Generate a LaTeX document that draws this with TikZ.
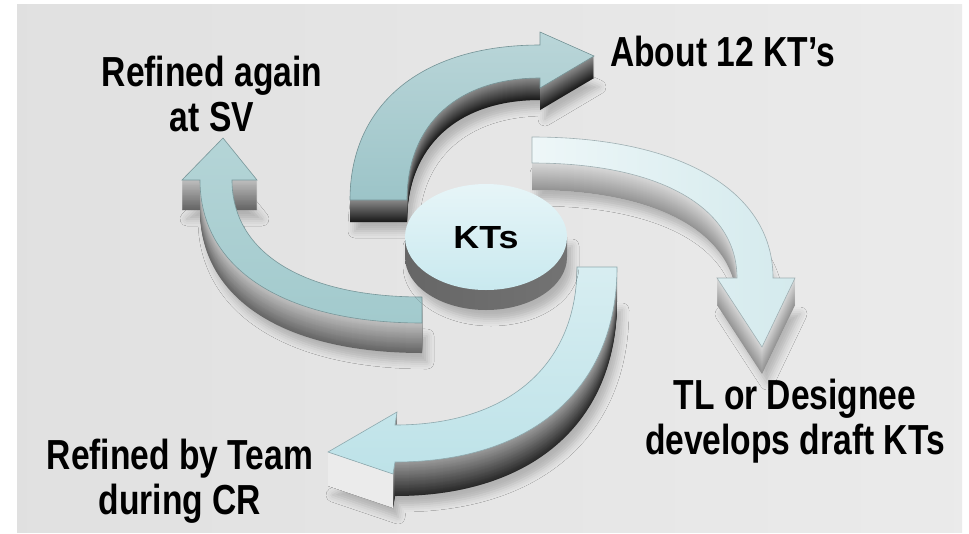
\documentclass[tikz,border=0pt]{standalone}
\usepackage{fontspec}
\setmainfont{Liberation Sans}
\usetikzlibrary{shadows.blur}
\definecolor{ktop}{HTML}{9CC4C8}
\definecolor{kleft}{HTML}{A2CACD}
\definecolor{kright}{HTML}{D4EAED}
\definecolor{kbottom}{HTML}{BDE2E8}
\definecolor{khub}{HTML}{C9E9EF}
\newcommand{\arrowtop}{(407,200) .. controls (407,124) and (458,78) .. (540,78) -- (540,88) -- (594,56) -- (540,32) -- (540,45) .. controls (422,45) and (350,104) .. (350,200) -- cycle}
\newcommand{\arrowright}{(532,163) .. controls (659,163) and (737,207) .. (737,278) -- (717,278) -- (762,347) -- (795,278) -- (773,278) .. controls (773,191) and (681,137) .. (532,137) -- cycle}
\newcommand{\arrowbottom}{(577,267) .. controls (577,365) and (508,425) .. (395,425) -- (397,412) -- (328,452) -- (393,474) -- (395,462) .. controls (533,462) and (617,388) .. (617,267) -- cycle}
\newcommand{\arrowleft}{(422,297) .. controls (304,297) and (232,253) .. (232,180) -- (257,180) -- (223,138) -- (182,180) -- (200,180) .. controls (200,269) and (284,323) .. (422,323) -- cycle}

\begin{document}
\begin{tikzpicture}[
      x=1pt, y=-1pt,
      label text/.style={font=\fontsize{42}{45}\selectfont\bfseries, xscale=0.8, align=center, inner sep=0pt},
      hub text/.style={font=\fontsize{32}{34}\selectfont\bfseries, xscale=1.12, inner sep=0pt},
      face edge/.style={draw=#1!75!black, line width=0.6pt},
      soft shadow/.style={blur shadow={shadow xshift=5pt, shadow yshift=-9pt, shadow opacity=22, shadow blur radius=7pt}}
      ]
      \useasboundingbox (0,0) rectangle (969,533);
      \fill[white] (0,0) rectangle (969,533);
      \shade[left color=black!12, right color=black!8] (17,4) rectangle (962,532);

      \fill[black!45, shift={(0,22)}, soft shadow] \arrowtop;
      \foreach \d [evaluate=\d as \c using int(45+2*\d)] in {22,21,...,1}
        \fill[black!\c, shift={(0,\d)}] \arrowtop;
      \shade[top color=ktop!70!white, bottom color=ktop, face edge=ktop] \arrowtop;

      \fill[black!15, shift={(0,27)}, soft shadow] \arrowright;
      \foreach \d [evaluate=\d as \c using int(15+1*\d)] in {27,26,...,1}
        \fill[black!\c, shift={(0,\d)}] \arrowright;
      \shade[left color=kright!40!white, right color=kright, face edge=kright] \arrowright;

      \fill[black!40, shift={(0,34)}, soft shadow] \arrowbottom;
      \foreach \d [evaluate=\d as \c using int(40+1.3*\d)] in {34,33,...,1}
        \fill[black!\c, shift={(0,\d)}] \arrowbottom;
      \fill[white!92!black] (328,452) -- (393,474) -- (393,508) -- (328,486) -- cycle;
      \shade[top color=kbottom!60!white, bottom color=kbottom, face edge=kbottom] \arrowbottom;

      \fill[black!25, shift={(0,30)}, soft shadow] \arrowleft;
      \foreach \d [evaluate=\d as \c using int(25+1.2*\d)] in {30,29,...,1}
        \fill[black!\c, shift={(0,\d)}] \arrowleft;
      \shade[top color=kleft!80!white, bottom color=kleft, face edge=kleft] \arrowleft;

      \shade[left color=black!60, middle color=white, right color=black!55, soft shadow] (405,237) -- (405,257) arc[start angle=180, end angle=0, x radius=81, y radius=53] -- (567,237) -- cycle;
      \shade[top color=khub!45!white, bottom color=khub] (486,237) ellipse [x radius=81, y radius=53];
      \node[hub text] (kts) at (486,238) {KTs};

      \node[label text, anchor=base] (sv) at (212,131) {Refined again\\at SV};
      \node[label text, anchor=base west] (about) at (610,66) {About 12 KT’s};
      \node[label text, anchor=base] (tl) at (795,454) {TL or Designee\\develops draft KTs};
      \node[label text, anchor=base] (team) at (180,514) {Refined by Team\\during CR};
    \end{tikzpicture}
\end{document}
